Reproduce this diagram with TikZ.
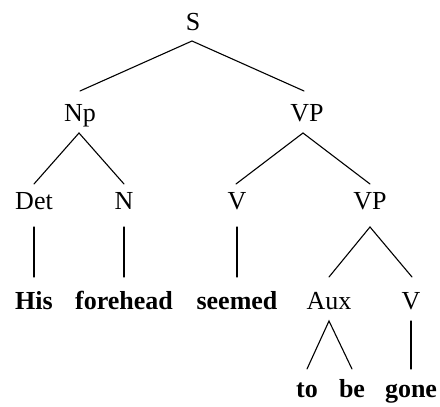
\documentclass[tikz,border=0pt]{standalone}
\usepackage{fontspec}
\setmainfont{Liberation Serif}
\begin{document}
\begin{tikzpicture}[x=1pt,y=1pt,
  lab/.style={inner sep=0pt, anchor=base, font=\fontsize{26}{30}\selectfont},
  word/.style={lab, font=\fontsize{26}{30}\selectfont\bfseries},
  br/.style={line width=1.1pt, line cap=round}]
\useasboundingbox (0,0) rectangle (440,407);
% row 1
\node[lab] (S) at (193,376) {S};
% row 2
\node[lab] (Np) at (80,285) {Np};
\node[lab] (VP) at (307,285) {VP};
% row 3
\node[lab] (Det) at (34,197) {Det};
\node[lab] (N) at (124,197) {N};
\node[lab] (V) at (237,197) {V};
\node[lab] (VPb) at (370,197) {VP};
% row 4
\node[word] (His) at (34,97) {His};
\node[word] (forehead) at (124,97) {forehead};
\node[word] (seemed) at (237,97) {seemed};
\node[lab] (Aux) at (329,97) {Aux};
\node[lab] (Vb) at (411,97) {V};
% row 5
\node[word] (to) at (307,9) {to};
\node[word] (be) at (352,9) {be};
\node[word] (gone) at (411,9) {gone};
% branches
\draw[br] ([yshift=31pt]Np.base) -- ([xshift=-1pt,yshift=-10pt]S.base) -- ([xshift=-3pt,yshift=31pt]VP.base);
\draw[br] ([yshift=26pt]Det.base) -- ([xshift=-1pt,yshift=-11pt]Np.base) -- ([yshift=26pt]N.base);
\draw[br] ([xshift=-1pt,yshift=26pt]V.base) -- ([xshift=-4pt,yshift=-11pt]VP.base) -- ([yshift=26pt]VPb.base);
\draw[br] ([yshift=-17pt]Det.base) -- ([yshift=33pt]His.base);
\draw[br] ([yshift=-17pt]N.base) -- ([yshift=33pt]forehead.base);
\draw[br] ([yshift=-17pt]V.base) -- ([yshift=33pt]seemed.base);
\draw[br] ([yshift=33pt]Aux.base) -- ([yshift=-17pt]VPb.base) -- ([xshift=1pt,yshift=33pt]Vb.base);
\draw[br] ([yshift=29pt]to.base) -- ([yshift=-11pt]Aux.base) -- ([yshift=29pt]be.base);
\draw[br] ([yshift=-11pt]Vb.base) -- ([yshift=29pt]gone.base);
\end{tikzpicture}
\end{document}
